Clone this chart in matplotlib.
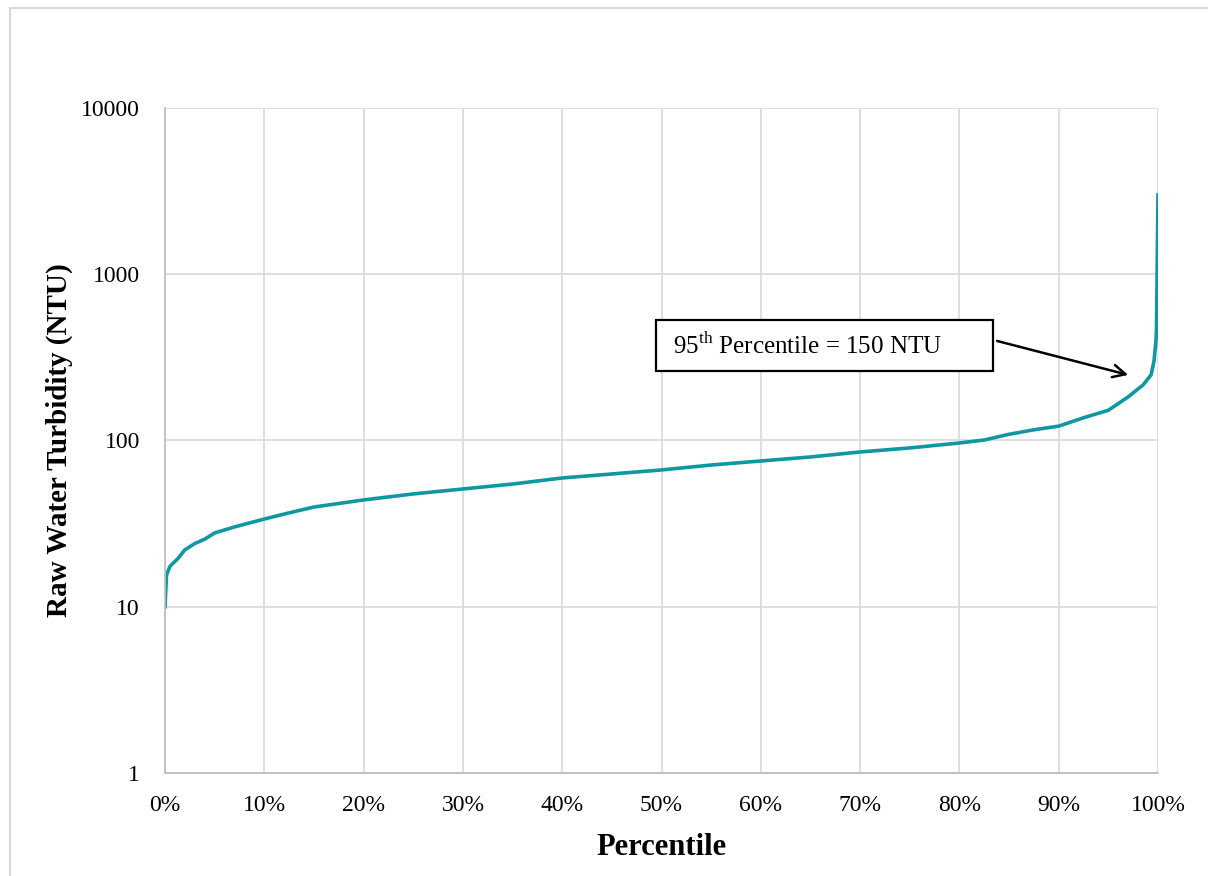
import matplotlib
matplotlib.use("Agg")
import matplotlib.pyplot as plt
from matplotlib.patches import Rectangle
from matplotlib.ticker import FixedLocator, FuncFormatter

# cumulative distribution of raw water turbidity readings
percentile = [0.0, 0.15, 0.5, 1.3, 2.0, 3.0, 4.0, 5.0, 7.0, 10.0, 12.0, 15.0,
              20.0, 25.0, 30.0, 35.0, 40.0, 45.0, 50.0, 55.0, 60.0, 65.0,
              70.0, 75.0, 80.0, 82.5, 85.0, 87.5, 90.0, 92.5, 95.0, 97.0,
              98.5, 99.3, 99.6, 99.8, 99.85, 100.0]
turbidity = [10, 15.5, 17.5, 19.5, 22, 24, 25.5, 27.8, 30.2, 33.7, 36.1, 39.8,
             43.9, 47.7, 51.1, 54.7, 59.5, 62.9, 66.5, 71.2, 75.3, 79.6,
             85.3, 90.2, 96.6, 100.7, 109, 116, 122, 137, 152, 183,
             216, 248, 300, 400, 480, 3000]

y_ticks = [1, 10, 100, 1000, 10000]
x_ticks = [0, 10, 20, 30, 40, 50, 60, 70, 80, 90, 100]

teal = "#0F97A2"
grid_grey = "#D9D9D9"
serif = "Liberation Serif"

# keep the superscript in the same serif face as the rest of the text
plt.rcParams["mathtext.fontset"] = "custom"
plt.rcParams["mathtext.rm"] = serif

fig = plt.figure(figsize=(12.08, 8.76), dpi=100)
ax = fig.add_axes([0.1366, 0.1176, 0.822, 0.7591])

ax.plot(percentile, turbidity, color=teal, linewidth=2.6, solid_joinstyle="round")

ax.set_yscale("log")
ax.set_ylim(1, 10000)
ax.set_xlim(0, 100)
ax.yaxis.set_major_locator(FixedLocator(y_ticks))
ax.yaxis.set_minor_locator(FixedLocator([]))
ax.yaxis.set_major_formatter(FuncFormatter(lambda v, p: "%d" % v))
ax.set_xticks(x_ticks)
ax.xaxis.set_major_formatter(FuncFormatter(lambda v, p: "%d%%" % v))

ax.grid(True, color=grid_grey, linewidth=1.2)
ax.set_axisbelow(True)
ax.tick_params(axis="y", length=0, pad=18, labelsize=17)
ax.tick_params(axis="x", length=0, pad=16, labelsize=17)
for lab in ax.get_xticklabels() + ax.get_yticklabels():
    lab.set_fontfamily(serif)
for side in ["top", "right"]:
    ax.spines[side].set_visible(False)
for side in ["left", "bottom"]:
    ax.spines[side].set_color("#BFBFBF")
    ax.spines[side].set_linewidth(1.3)

ax.set_xlabel("Percentile", fontfamily=serif, fontweight="bold", fontsize=22, labelpad=12)
ax.set_ylabel("Raw Water Turbidity (NTU)", fontfamily=serif, fontweight="bold",
              fontsize=21, labelpad=6)

# callout box and arrow pointing at the 95th percentile region of the curve
ax.add_patch(Rectangle((49.4, 262), 83.4 - 49.4, 531 - 262, facecolor="white",
                       edgecolor="black", linewidth=1.6, zorder=4))
ax.text(51.2, 373, "95$^{\\mathrm{th}}$ Percentile = 150 NTU", fontfamily=serif,
        fontsize=18, va="center", ha="left", zorder=5)
ax.annotate("", xy=(97.0, 248), xytext=(83.8, 397),
            arrowprops=dict(arrowstyle="->,head_length=0.9,head_width=0.45",
                            color="black", lw=1.8, shrinkA=0, shrinkB=0))

# outer chart frame
fig.patches.append(Rectangle((10 / 1208, -0.05), 1.2, 1 - 8 / 876 + 0.05,
                             transform=fig.transFigure, fill=False,
                             edgecolor=grid_grey, linewidth=1.5))

fig.savefig("out.png", dpi=100)
